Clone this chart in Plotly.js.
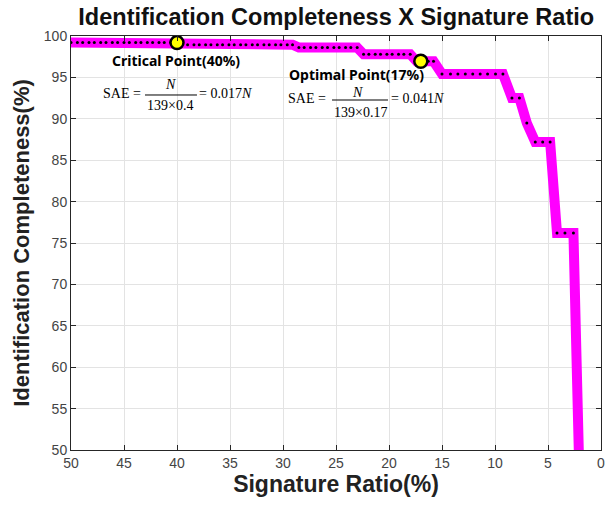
<!DOCTYPE html>
<html>
<head>
<meta charset="utf-8">
<script src="https://cdn.plot.ly/plotly-3.0.1.min.js"></script>
<style>html,body{margin:0;padding:0;background:#fff;}#chart{width:608px;height:510px;}</style>
</head>
<body>
<div id="chart"></div>
<script>
// Signature ratio (%) and identification completeness (%)
const ratio = [
  50.0, 49.4, 48.9, 48.3, 47.8, 47.2, 46.7, 46.1, 45.6, 45.0, 44.5, 43.9, 43.4, 42.8, 42.3, 41.7, 41.2, 40.6, 40.0,
  39.0, 38.4, 37.9, 37.3, 36.8, 36.2, 35.7, 35.1, 34.6, 34.0, 33.5, 32.9, 32.4, 31.8, 31.3, 30.7, 30.2, 29.6, 29.1,
  28.5, 28.0, 27.4, 26.9, 26.3, 25.8, 25.2, 24.7, 24.1, 23.6, 23.0,
  22.4, 21.9, 21.3, 20.8, 20.2, 19.7, 19.1, 18.6, 18.0,
  17.4, 16.9, 16.3, 15.8,
  15.0, 14.2, 13.5, 12.8, 12.1, 11.4, 10.7, 9.95, 9.25,
  8.4, 7.7, 7.0, 6.2, 5.5, 4.8, 4.15, 3.4, 2.6, 2.0
];
const completeness = [
  99.2, 99.2, 99.2, 99.2, 99.2, 99.2, 99.2, 99.2, 99.2, 99.2, 99.2, 99.2, 99.2, 99.2, 99.2, 99.2, 99.2, 99.2, 99.2,
  98.95, 98.95, 98.95, 98.95, 98.95, 98.95, 98.95, 98.95, 98.95, 98.95, 98.95, 98.95, 98.95, 98.95, 98.95, 98.95, 98.95, 98.95, 98.95,
  98.6, 98.6, 98.6, 98.6, 98.6, 98.6, 98.6, 98.6, 98.6, 98.6, 98.6,
  97.8, 97.8, 97.8, 97.8, 97.8, 97.8, 97.8, 97.8, 97.8,
  96.95, 96.95, 96.95, 96.95,
  95.4, 95.4, 95.4, 95.4, 95.4, 95.4, 95.4, 95.4, 95.4,
  92.5, 92.5, 89.5, 87.2, 87.2, 87.2, 76.2, 76.2, 76.2, 45.0
];
const keyRatio = [40, 17];
const keyCompleteness = [99.2, 96.95];

const xTicks = [50, 45, 40, 35, 30, 25, 20, 15, 10, 5, 0];
const yTicks = [50, 55, 60, 65, 70, 75, 80, 85, 90, 95, 100];

const serif = {family: 'Liberation Serif, Times New Roman, serif', size: 14, color: '#000'};
const bold = {family: 'Noto Sans, sans-serif', size: 14, color: '#000', weight: 'bold'};

function ann(x, y, text, font, xanchor) {
  return {xref: 'paper', yref: 'paper', x: x, y: y, text: text, showarrow: false,
          font: font, xanchor: xanchor || 'center', yanchor: 'middle', borderpad: 0};
}

const traces = [
  {x: ratio, y: completeness, mode: 'lines', line: {color: '#ff00ff', width: 10}, hoverinfo: 'skip'},
  {x: ratio, y: completeness, mode: 'markers', marker: {color: '#000', size: 3}, hoverinfo: 'skip'},
  {x: keyRatio, y: keyCompleteness, mode: 'markers',
   marker: {color: '#ffff00', size: 13, line: {color: '#000', width: 2.5}}, hoverinfo: 'skip'}
];

const axisCommon = {
  showline: true, linecolor: '#262626', linewidth: 1, mirror: 'ticks',
  ticks: 'inside', ticklen: 5, tickcolor: '#262626',
  showgrid: true, gridcolor: '#e3e3e3', gridwidth: 1, zeroline: false,
  tickfont: {family: 'Liberation Sans, Arial, sans-serif', size: 14, color: '#444'}
};

const layout = {
  width: 608, height: 510,
  margin: {l: 71, r: 7, t: 36, b: 60},
  paper_bgcolor: '#fff', plot_bgcolor: '#fff',
  showlegend: false,
  title: {text: '<b>Identification Completeness X Signature Ratio</b>',
          font: {family: 'Liberation Sans, Arial, sans-serif', size: 23.5, color: '#111'},
          x: 0.553, xanchor: 'center', y: 0.967, yanchor: 'middle'},
  xaxis: Object.assign({}, axisCommon, {
    range: [50, 0], tickvals: xTicks, ticktext: xTicks.map(String),
    title: {text: '<b>Signature Ratio(%)</b>', standoff: 6,
            font: {family: 'Liberation Sans, Arial, sans-serif', size: 23, color: '#222'}}
  }),
  yaxis: Object.assign({}, axisCommon, {
    range: [50, 100], tickvals: yTicks, ticktext: yTicks.map(String),
    title: {text: '<b>Identification Completeness(%)</b>', standoff: 8,
            font: {family: 'Liberation Sans, Arial, sans-serif', size: 22, color: '#222'}}
  }),
  annotations: [
    ann(0.198, 0.942, 'Critical Point(40%)', bold),
    ann(0.0585, 0.862, 'SAE =', serif, 'left'),
    ann(0.1868, 0.882, '<i>N</i>', serif),
    ann(0.1868, 0.831, '139×0.4', serif),
    ann(0.2396, 0.862, '= 0.017<i>N</i>', serif, 'left'),
    ann(0.5396, 0.9058, 'Optimal Point(17%)', bold),
    ann(0.4075, 0.8502, 'SAE =', serif, 'left'),
    ann(0.5415, 0.8635, '<i>N</i>', serif),
    ann(0.5453, 0.8164, '139×0.17', serif),
    ann(0.6019, 0.8502, '= 0.041<i>N</i>', serif, 'left')
  ],
  shapes: [
    {type: 'line', xref: 'paper', yref: 'paper', x0: 0.1396, x1: 0.2377, y0: 0.8575, y1: 0.8575, line: {color: '#000', width: 1}},
    {type: 'line', xref: 'paper', yref: 'paper', x0: 0.4925, x1: 0.5981, y0: 0.8454, y1: 0.8454, line: {color: '#000', width: 1}}
  ]
};

Plotly.newPlot('chart', traces, layout, {displayModeBar: false, staticPlot: true});
</script>
</body>
</html>
